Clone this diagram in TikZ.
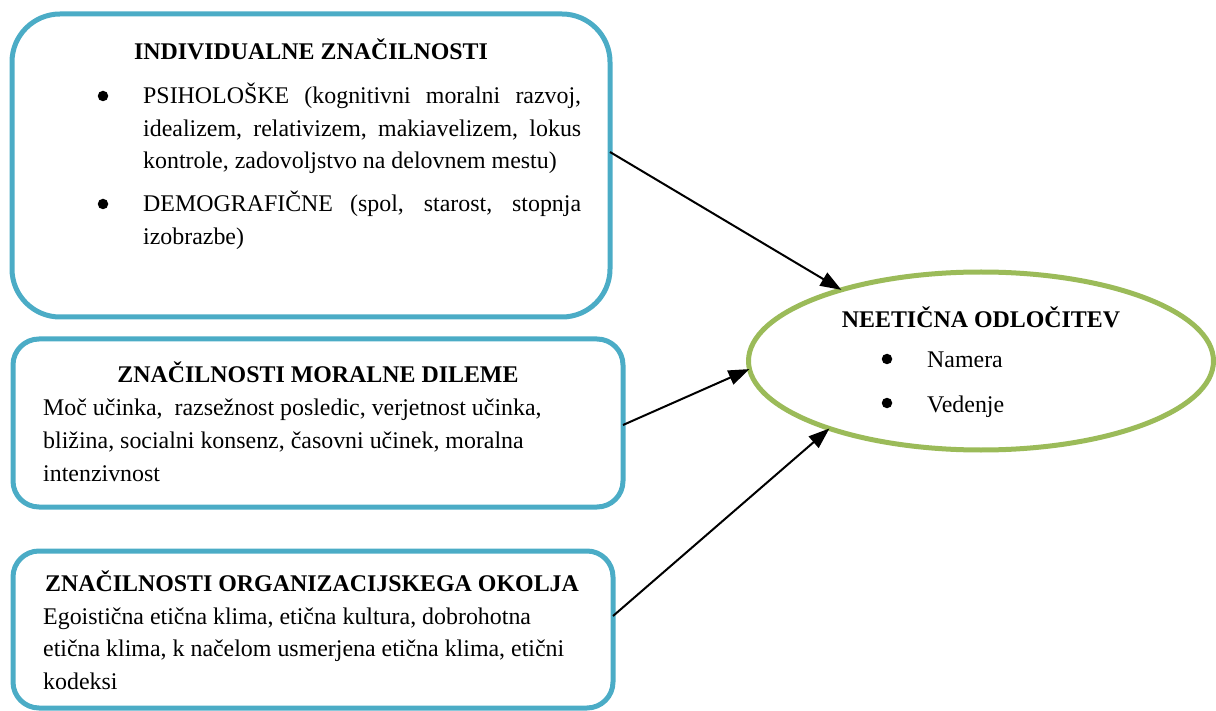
\documentclass[tikz,border=0pt]{standalone}
\usepackage{fontspec}
\setmainfont{Liberation Serif}
\usetikzlibrary{arrows.meta,shapes.geometric,calc}
\definecolor{boxblue}{HTML}{4BACC6}
\definecolor{ovalgreen}{HTML}{9BBB59}

\begin{document}
\begin{tikzpicture}[x=1pt,y=-1pt,
  txt/.style={anchor=base west, inner sep=0pt, font=\fontsize{23.9}{28}\selectfont},
  ttl/.style={anchor=base, inner sep=0pt, font=\fontsize{23.9}{28}\selectfont\bfseries},
  panel/.style={draw=boxblue, line width=5pt, rounded corners=#1, inner sep=0pt, outer sep=0pt},
  oval/.style={ellipse, draw=ovalgreen, line width=5pt, inner sep=0pt, outer sep=0pt},
  dot/.style={circle, fill=black, inner sep=0pt, minimum size=10.5pt},
  link/.style={line width=2pt, -{Triangle[length=21pt,width=15pt]}}
]
\useasboundingbox (0,0) rectangle (1216,711);

% frames
\node[panel=48pt, minimum width=598pt, minimum height=303pt] (indiv) at (311,165.5) {};
\node[panel=26pt, minimum width=610pt, minimum height=168pt] (dilema) at (318,423) {};
\node[panel=26pt, minimum width=600pt, minimum height=157pt] (okolje) at (313,629.5) {};
\node[oval, minimum width=465pt, minimum height=178pt] (odl) at (981,361) {};

% individual characteristics
\node[ttl] (t1) at (311,60) {INDIVIDUALNE ZNAČILNOSTI};
\node[dot] (b1) at (103,96) {};
\node[txt] (p1) at (143,104) {\makebox[438pt][s]{PSIHOLOŠKE (kognitivni moralni razvoj,}};
\node[txt] (p2) at (143,136.5) {\makebox[438pt][s]{idealizem, relativizem, makiavelizem, lokus}};
\node[txt] (p3) at (143,169) {kontrole, zadovoljstvo na delovnem mestu)};
\node[dot] (b2) at (103,204) {};
\node[txt] (d1) at (143,212) {\makebox[438pt][s]{DEMOGRAFIČNE (spol, starost, stopnja}};
\node[txt] (d2) at (143,244.5) {izobrazbe)};

% moral dilemma
\node[ttl] (t2) at (318,382) {ZNAČILNOSTI MORALNE DILEME};
\node[txt] (m1) at (43,415) {Moč učinka,~ razsežnost posledic, verjetnost učinka,};
\node[txt] (m2) at (43,448) {bližina, socialni konsenz, časovni učinek, moralna};
\node[txt] (m3) at (43,481) {intenzivnost};

% organisational environment
\node[ttl] (t3) at (312,591) {ZNAČILNOSTI ORGANIZACIJSKEGA OKOLJA};
\node[txt] (o1) at (43,624) {Egoistična etična klima, etična kultura, dobrohotna};
\node[txt] (o2) at (43,656) {etična klima, k načelom usmerjena etična klima, etični};
\node[txt] (o3) at (43,689) {kodeksi};

% unethical decision
\node[ttl] (t4) at (981,328) {NEETIČNA ODLOČITEV};
\node[dot] (b3) at (887,359) {};
\node[txt] (n1) at (927,368) {Namera};
\node[dot] (b4) at (887,403) {};
\node[txt] (n2) at (927,412) {Vedenje};

% influences
\draw[link] ($(indiv.east)+(0,-13.5)$) -- (odl.153);
\draw[link] ($(dilema.east)+(0,2)$) -- (odl.182.2);
\draw[link] ($(okolje.east)+(0,-13.5)$) -- (odl.204.8);
\end{tikzpicture}
\end{document}
